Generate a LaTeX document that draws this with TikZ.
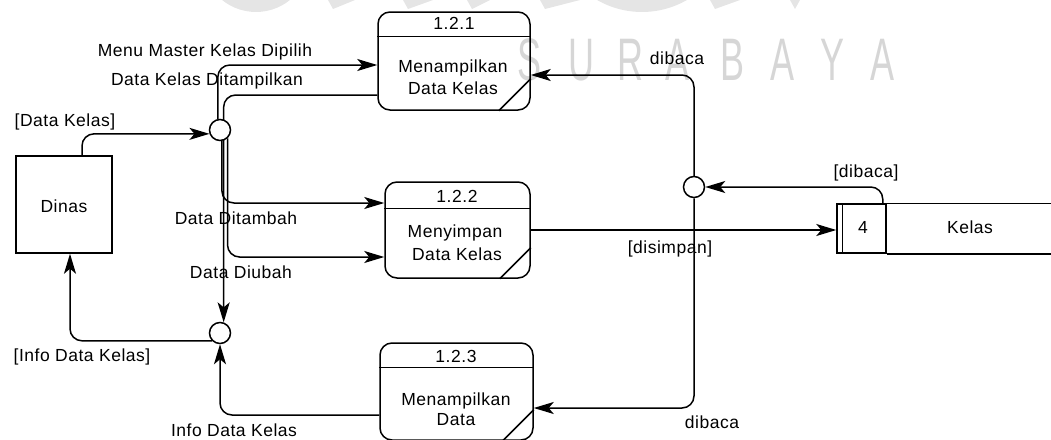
\documentclass[tikz,border=0pt]{standalone}
\usepackage{fontspec}
\setmainfont{Liberation Sans}[LetterSpace=3]
\usetikzlibrary{arrows.meta}
\begin{document}
\begin{tikzpicture}[x=1pt,y=-1pt,
  proc/.style={draw,line width=1.5pt,rounded corners=12pt,inner sep=0pt},
  junc/.style={draw,circle,fill=white,line width=1.5pt,minimum size=21pt,inner sep=0pt},
  flow/.style={line width=1.5pt,rounded corners=12pt,-{Stealth[length=20pt,width=12pt,inset=5pt]}},
  bline/.style={line width=1.5pt},
  txt/.style={font=\fontsize{17.5}{20}\selectfont,inner sep=0pt,anchor=base},
  wmark/.style={text=black!16,font=\fontsize{60}{60}\selectfont,anchor=base west,inner sep=0pt},
  wblob/.style={fill=black!10}]
\useasboundingbox (0,0) rectangle (1051,439);

\fill[wblob] (256,-42) circle (54pt);
\fill[wblob] (642,-78) circle (90pt);
\foreach \a/\b in {328/355,403/433,467/490,540/580,710/740,790/800}
  \fill[wblob] (\a,0) -- (\b,0) -- (\a+5,9) -- cycle;
\foreach \c/\x in {S/517,U/568,R/617,A/665,B/720,A/770,Y/820,A/870}
  \node[wmark] (wm\x) at (\x,80) {\scalebox{0.6}[1]{\c}};

\node[proc,minimum width=152pt,minimum height=98pt] (p1) at (454,61) {};
\node[proc,minimum width=145pt,minimum height=96pt] (p2) at (457.5,230) {};
\node[proc,minimum width=153pt,minimum height=97pt] (p3) at (456.5,391.5) {};
\foreach \p/\h/\s in {p1/25/32,p2/27/31,p3/25/31}{
  \draw[bline] ([yshift=-\h pt]\p.north west) -- ([yshift=-\h pt]\p.north east);
  \draw[bline] ([xshift=-\s pt]\p.south east) -- ([yshift=\s pt]\p.south east);
}
\node[txt] (p1id) at (454,29) {1.2.1};
\node[txt] (p1a) at (453,72) {Menampilkan};
\node[txt] (p1b) at (453,94) {Data Kelas};
\node[txt] (p2id) at (457,202) {1.2.2};
\node[txt] (p2a) at (455,237) {Menyimpan};
\node[txt] (p2b) at (457,260) {Data Kelas};
\node[txt] (p3id) at (456,362) {1.2.3};
\node[txt] (p3a) at (456,405) {Menampilkan};
\node[txt] (p3b) at (456,425) {Data};

\node[draw,line width=1.5pt,minimum width=96pt,minimum height=97pt,inner sep=0pt] (dinas) at (64,204.5) {};
\node[txt] (dinaslbl) at (64,212) {Dinas};

\node[draw,line width=1.5pt,minimum width=49pt,minimum height=49pt,inner sep=0pt] (kelasid) at (861.5,228.5) {};
\draw[bline] ([xshift=6pt]kelasid.north west) -- ([xshift=6pt]kelasid.south west);
\draw[bline] (kelasid.north east) -- ++(180,0);
\draw[bline] (kelasid.south east) -- ++(180,0);
\node[txt] (kelasno) at (863,233) {4};
\node[txt] (kelasname) at (970,233) {Kelas};

\node[junc] (j2) at (220,333) {};
\draw[flow] ([yshift=-34pt]p1.west) -| (j2.71);
\node[junc] (j1) at (220,130) {};
\node[junc] (j3) at (694,187) {};

\draw[flow] ([xshift=18pt]dinas.north) |- (j1.200);
\draw[flow] (j1.101) |- ([yshift=-4pt]p1.west);
\draw[flow] (j1.-80) |- ([yshift=27pt]p2.west);
\draw[flow] (j1.-48) |- ([yshift=-27pt]p2.west);
\draw[flow] (j2.224) -| ([xshift=6pt]dinas.south);
\draw[flow] ([yshift=-23.5pt]p3.west) -| (j2.south);
\draw[flow] (p2.east) -- (p2.east -| kelasid.west);
\draw[flow] ([xshift=-4pt]kelasid.north east) |- (j3.east);
\draw[flow] (j3.north) |- ([yshift=-14pt]p1.east);
\draw[flow] (j3.south) |- ([yshift=-16.5pt]p3.east);

\node[txt] (lblmenu) at (205,56) {Menu Master Kelas Dipilih};
\node[txt] (lbltampil) at (207,85) {Data Kelas Ditampilkan};
\node[txt] (lbldk) at (65,126) {[Data Kelas]};
\node[txt] (lbltambah) at (236,224) {Data Ditambah};
\node[txt] (lblubah) at (241,278) {Data Diubah};
\node[txt] (lblinfo1) at (82,361) {[Info Data Kelas]};
\node[txt] (lblinfo2) at (234,436) {Info Data Kelas};
\node[txt] (lblsimpan) at (670,253) {[disimpan]};
\node[txt] (lblbaca1) at (866,177) {[dibaca]};
\node[txt] (lblbaca2) at (677,64) {dibaca};
\node[txt] (lblbaca3) at (712,428) {dibaca};
\end{tikzpicture}
\end{document}
